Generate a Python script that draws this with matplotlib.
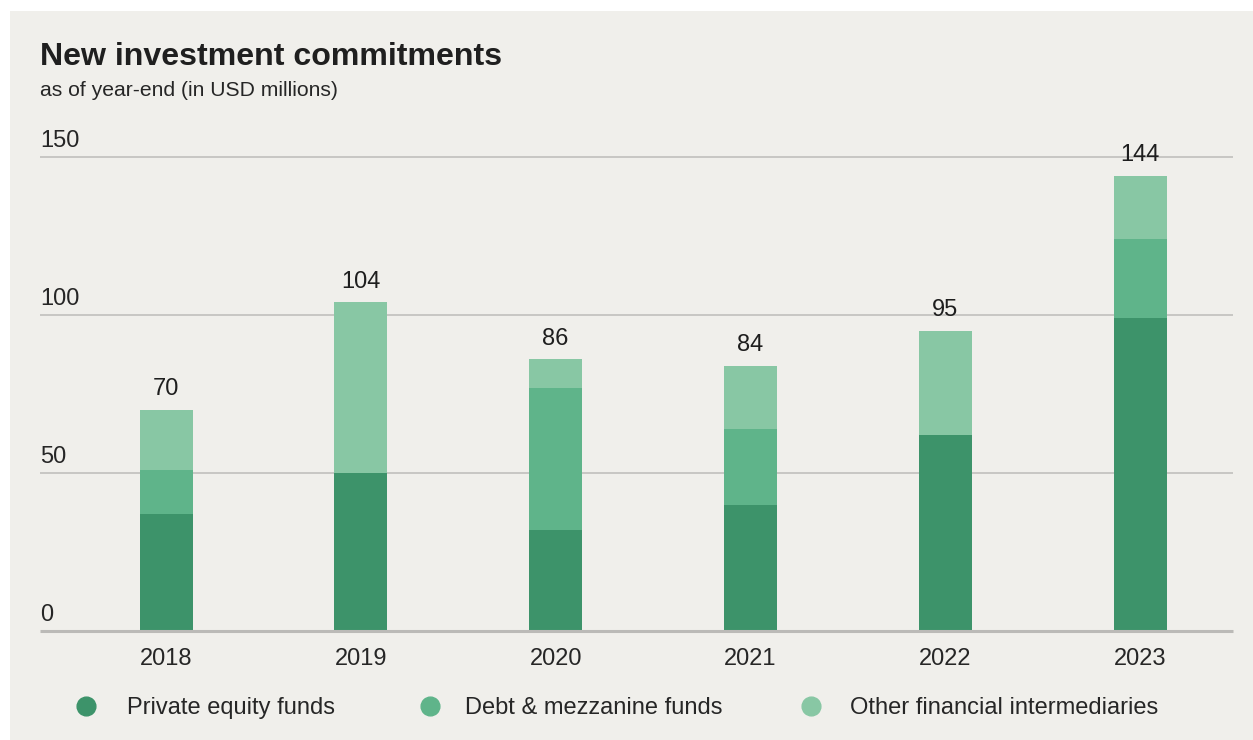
import matplotlib
matplotlib.use("Agg")
import matplotlib.pyplot as plt
from matplotlib.patches import Rectangle
from matplotlib.lines import Line2D

plt.rcParams['font.family'] = ['Liberation Sans', 'DejaVu Sans']

years = ["2018", "2019", "2020", "2021", "2022", "2023"]
private_equity = [37, 50, 32, 40, 62, 99]
debt_mezzanine = [14, 0, 45, 24, 0, 25]
other_intermediaries = [19, 54, 9, 20, 33, 20]
totals = [70, 104, 86, 84, 95, 144]
series_names = ["Private equity funds", "Debt & mezzanine funds",
                "Other financial intermediaries"]

colors = ["#3d936a", "#5fb48a", "#88c7a4"]
bg = "#f0efeb"
text_col = "#262626"
fs = 17

W, H = 1253, 740
fig = plt.figure(figsize=(W / 100, H / 100), dpi=100, facecolor="white")
fig.add_artist(Rectangle((10 / W, 0), 1 - 10 / W, (H - 11) / H,
                         transform=fig.transFigure, facecolor=bg,
                         edgecolor="none", zorder=0))

ax = fig.add_axes([40 / W, (H - 631) / H, (1233 - 40) / W, (631 - 157) / H])
ax.set_facecolor("none")

x = list(range(len(years)))
width = 0.272
bottom2 = [a + b for a, b in zip(private_equity, debt_mezzanine)]
ax.bar(x, private_equity, width, color=colors[0], zorder=3)
ax.bar(x, debt_mezzanine, width, bottom=private_equity, color=colors[1], zorder=3)
ax.bar(x, other_intermediaries, width, bottom=bottom2, color=colors[2], zorder=3)

for xi, t in zip(x, totals):
    ax.annotate(str(t), (xi, t), xytext=(0, 10.5), textcoords="offset points",
                ha="center", va="baseline", fontsize=fs, color="#1e1e1e",
                annotation_clip=False)

ax.set_xlim(-0.647, 5.477)
ax.set_ylim(0, 150)

for v in [50, 100, 150]:
    ax.axhline(v, color="#bdbcb9", lw=1.1, zorder=1, clip_on=False,
               solid_capstyle="butt")
ax.axhline(0, color="#bbbab7", lw=2.2, zorder=4, clip_on=False,
           solid_capstyle="butt")

for v in [0, 50, 100, 150]:
    ax.annotate(str(v), (0, v), xycoords=("axes fraction", "data"),
                xytext=(0, 7.2), textcoords="offset points",
                ha="left", va="baseline", fontsize=fs, color=text_col)

ax.set_yticks([])
ax.set_xticks(x)
ax.set_xticklabels(years, fontsize=fs, color=text_col)
ax.tick_params(axis="x", length=0, pad=24.5)
for lbl in ax.get_xticklabels():
    lbl.set_va("baseline")
for s in ax.spines.values():
    s.set_visible(False)

fig.text(40 / W, 1 - 65 / H, "New investment commitments", fontsize=23.1,
         fontweight="bold", color="#1f1f1f", ha="left", va="baseline")
fig.text(40 / W, 1 - 96 / H, "as of year-end (in USD millions)", fontsize=15.2,
         color=text_col, ha="left", va="baseline")

marker_x = [86, 430, 811]
label_x = [127, 465, 850]
for mx, lx, name, c in zip(marker_x, label_x, series_names, colors):
    fig.add_artist(Line2D([mx / W], [1 - 706 / H], marker="o", markersize=13.5,
                          color=c, linestyle="none", transform=fig.transFigure))
    fig.text(lx / W, 1 - 714 / H, name, fontsize=fs, color=text_col,
             ha="left", va="baseline")

fig.savefig("out.png", dpi=100, facecolor="white")
